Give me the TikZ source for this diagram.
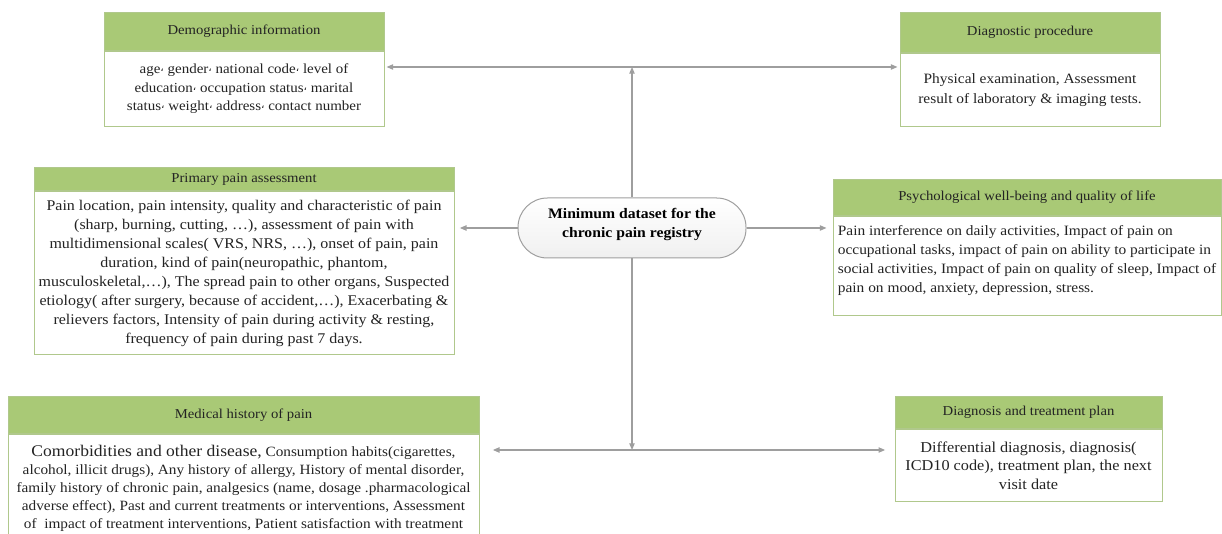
\documentclass[tikz,border=0pt]{standalone}
\usepackage{fontspec}
\setmainfont[FakeStretch=1.08]{Liberation Serif}
\newfontfamily\arabicfont{DejaVu Sans}
\usetikzlibrary{arrows.meta}

\definecolor{headgreen}{RGB}{169,201,118}
\definecolor{boxline}{RGB}{176,200,140}
\definecolor{linkgray}{RGB}{158,158,158}
\definecolor{txt}{RGB}{35,35,35}
\newcommand{\acomma}{\raisebox{0.35ex}{\arabicfont\fontsize{8}{8}\selectfont ،}}

\tikzset{every picture/.style={line width=0.75pt}}
\tikzset{
  head/.style={draw=boxline, fill=headgreen, anchor=north, inner sep=0pt, text=txt, font=\fontsize{10.2}{12}\selectfont},
  body/.style={draw=boxline, fill=white, anchor=north, inner sep=0pt, align=center, text=txt, font=\fontsize{11}{14}\selectfont},
  core/.style={draw=gray!75, top color=white, bottom color=gray!12, rounded corners=22pt, align=center, text=black, font=\bfseries\fontsize{10.9}{14}\selectfont},
  link/.style={draw=linkgray, line width=0.9pt},
  >={Triangle[length=5pt,width=4pt]}
}

\begin{document}
\begin{tikzpicture}[x=0.75pt,y=0.75pt,yscale=-1,xscale=1]
\useasboundingbox (0,0) rectangle (1222,534);

%Centre
\node[core, minimum width=171pt, minimum height=45pt] (core) at (632,228) {Minimum dataset for the\\chronic pain registry\\[-6pt]\mbox{}};

%Demographic information
\node[head, minimum width=210pt, minimum height=28.5pt] (demoH) at (244,12) {Demographic information};
\node[body, minimum width=210pt, minimum height=56.25pt, font=\fontsize{10.4}{13.9}\selectfont] (demoB) at (demoH.south) {age\acomma{} gender\acomma{} national code\acomma{} level of\\education\acomma{} occupation status\acomma{} marital\\status\acomma{} weight\acomma{} address\acomma{} contact number};

%Diagnostic procedure
\node[head, minimum width=195pt, minimum height=30pt] (diagH) at (1030,12) {Diagnostic procedure};
\node[body, minimum width=195pt, minimum height=54.75pt, font=\fontsize{10.7}{15}\selectfont] (diagB) at (diagH.south) {Physical examination, Assessment\\result of laboratory \& imaging tests.};

%Primary pain assessment
\node[head, minimum width=315pt, minimum height=17.25pt] (primH) at (244,167) {Primary pain assessment};
\node[body, minimum width=315pt, minimum height=122.25pt, font=\fontsize{11.1}{14.25}\selectfont] (primB) at (primH.south) {Pain location, pain intensity, quality and characteristic of pain\\(sharp, burning, cutting, …), assessment of pain with\\multidimensional scales( VRS, NRS, …), onset of pain, pain\\duration, kind of pain(neuropathic, phantom,\\musculoskeletal,…), The spread pain to other organs, Suspected\\etiology( after surgery, because of accident,…), Exacerbating \&\\relievers factors, Intensity of pain during activity \& resting,\\frequency of pain during past 7 days.};

%Psychological well-being and quality of life
\node[head, minimum width=291pt, minimum height=27pt] (psyH) at (1027,179) {Psychological well-being and quality of life};
\node[body, align=left, minimum width=291pt, minimum height=74.25pt, font=\fontsize{10.7}{14.25}\selectfont] (psyB) at (psyH.south) {Pain interference on daily activities, Impact of pain on\\occupational tasks, impact of pain on ability to participate in\\social activities, Impact of pain on quality of sleep, Impact of\\pain on mood, anxiety, depression, stress.\\[-4pt]\mbox{}};

%Medical history of pain
\node[head, minimum width=353.25pt, minimum height=27.75pt] (medH) at (243.5,396) {Medical history of pain};
\node[body, minimum width=353.25pt, minimum height=80.25pt, font=\fontsize{10.6}{13.5}\selectfont] (medB) at (medH.south) {{\fontsize{12.2}{13.5}\selectfont Comorbidities and other disease,} Consumption habits(cigarettes,\\alcohol, illicit drugs), Any history of allergy, History of mental disorder,\\family history of chronic pain, analgesics (name, dosage .pharmacological\\adverse effect), Past and current treatments or interventions, Assessment\\of~ impact of treatment interventions, Patient satisfaction with treatment};

%Diagnosis and treatment plan
\node[head, minimum width=200.25pt, minimum height=24pt] (planH) at (1028.5,396) {Diagnosis and treatment plan};
\node[body, minimum width=200.25pt, minimum height=54pt, font=\fontsize{11.3}{14}\selectfont] (planB) at (planH.south) {Differential diagnosis, diagnosis(\\ICD10 code), treatment plan, the next\\visit date};

%Connectors
\coordinate (topjoin) at (632,67);
\coordinate (botjoin) at (632,450);
\draw[link,<->,shorten <=1.5pt,shorten >=1.5pt] (demoB.east |- topjoin) -- (diagB.west |- topjoin);
\draw[link,->] (core.north) -- (topjoin);
\draw[link,->,shorten >=4pt] (core.west) -- (core.west -| primB.east);
\draw[link,->,shorten >=4.5pt] (core.east) -- (core.east -| psyB.west);
\draw[link,->] (core.south) -- (botjoin);
\draw[link,<->,shorten <=10pt,shorten >=7pt] (medB.east |- botjoin) -- (planB.west |- botjoin);

\end{tikzpicture}
\end{document}
